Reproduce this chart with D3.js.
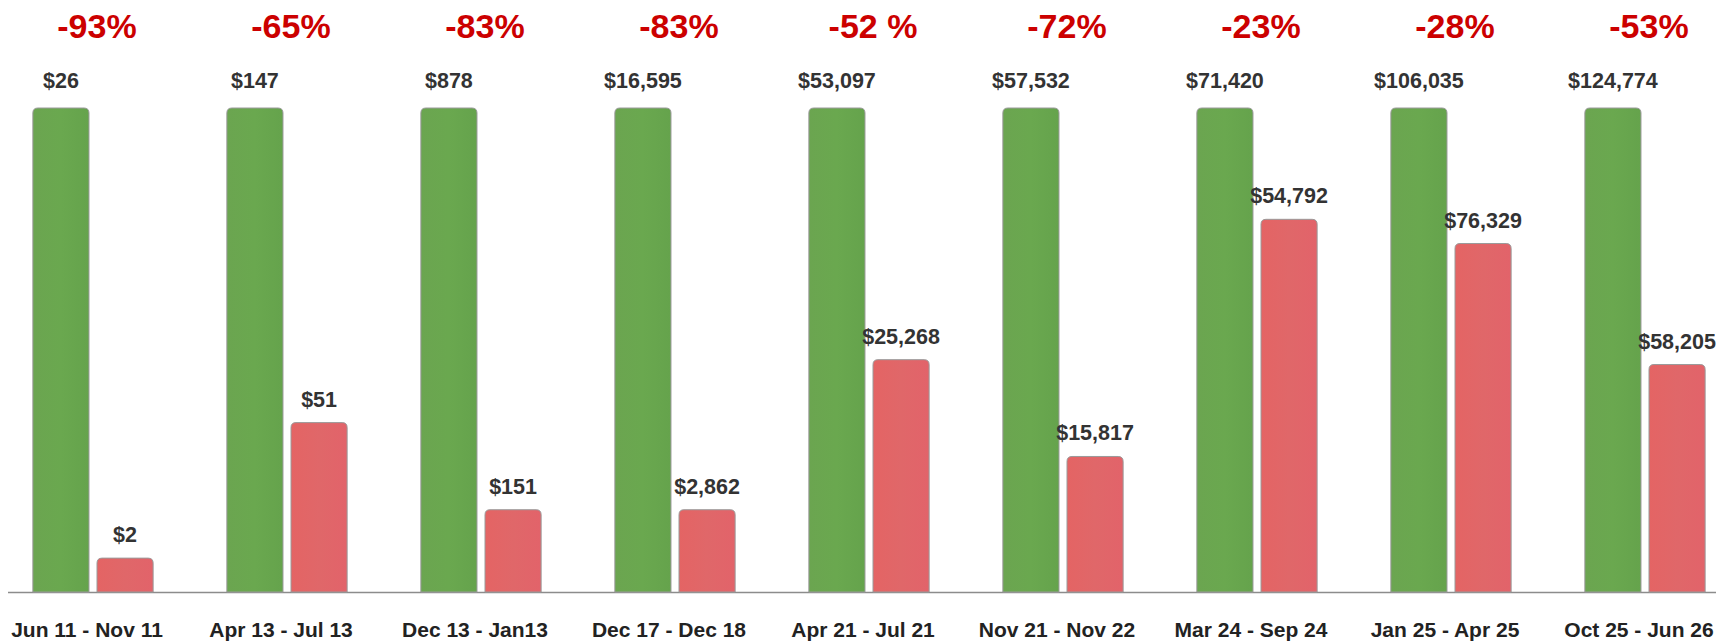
<!DOCTYPE html>
<html>
<head>
<meta charset="utf-8">
<script src="https://cdn.jsdelivr.net/npm/d3@7"></script>
<style>
    body { margin: 0; background: #ffffff; }
    text { font-family: "Liberation Sans", Arial, sans-serif; font-weight: bold; }
</style>
</head>
<body>
<svg id="drawing_region"></svg>
<script>
const periods = ['Jun 11 - Nov 11', 'Apr 13 - Jul 13', 'Dec 13 - Jan13', 'Dec 17 - Dec 18',
    'Apr 21 - Jul 21', 'Nov 21 - Nov 22', 'Mar 24 - Sep 24', 'Jan 25 - Apr 25', 'Oct 25 - Jun 26'];
const peakValues = [26, 147, 878, 16595, 53097, 57532, 71420, 106035, 124774];
const lowValues = [2, 51, 151, 2862, 25268, 15817, 54792, 76329, 58205];
const changeValues = [-93, -65, -83, -83, -52, -72, -23, -28, -53];
const changeLabels = ['-93%', '-65%', '-83%', '-83%', '-52 %', '-72%', '-23%', '-28%', '-53%'];

const config = {
    width: 1716,
    height: 641,
    baseline: 592,
    top: 108
};

const svg = d3.select('#drawing_region')
    .attr('width', config.width)
    .attr('height', config.height);

// bar height is the share of the peak that is left
const data = periods.map((p, i) => ({
    label: p,
    peak: peakValues[i],
    low: lowValues[i],
    change: changeValues[i],
    changeLabel: changeLabels[i]
}));

const xscale = d3.scaleBand()
    .domain(periods)
    .range([-4, 1742])
    .paddingInner(0.38)
    .paddingOuter(0.19);

const xsub = d3.scaleBand()
    .domain(['peak', 'low'])
    .range([0, xscale.bandwidth()])
    .paddingInner(0.125);

const yscale = d3.scaleLinear()
    .domain([0, 1])
    .range([config.baseline, config.top]);

const money = v => '$' + d3.format(',')(v);

function topRounded(x, y, w, h, r) {
    return `M${x},${y + h} V${y + r} Q${x},${y} ${x + r},${y} H${x + w - r} Q${x + w},${y} ${x + w},${y + r} V${y + h} Z`;
}

const defs = svg.append('defs');
const gradG = defs.append('linearGradient').attr('id', 'gradG');
gradG.append('stop').attr('offset', '0%').attr('stop-color', '#6ba550');
gradG.append('stop').attr('offset', '50%').attr('stop-color', '#6aa84f');
gradG.append('stop').attr('offset', '100%').attr('stop-color', '#65a34c');
const gradR = defs.append('linearGradient').attr('id', 'gradR');
gradR.append('stop').attr('offset', '0%').attr('stop-color', '#e46464');
gradR.append('stop').attr('offset', '50%').attr('stop-color', '#e06769');
gradR.append('stop').attr('offset', '100%').attr('stop-color', '#e2636a');

// axis
const xaxis = d3.axisBottom(xscale).tickSize(0);
const xaxis_group = svg.append('g')
    .attr('transform', `translate(-6, ${config.baseline})`)
    .call(xaxis);
xaxis_group.select('.domain').remove();
xaxis_group.selectAll('text')
    .attr('dy', '0')
    .attr('y', 45)
    .style('font-size', '21px')
    .style('font-family', '"Liberation Sans", Arial, sans-serif')
    .style('font-weight', 'bold')
    .attr('fill', '#222222');

svg.append('line')
    .attr('x1', 8).attr('x2', config.width)
    .attr('y1', config.baseline + 0.5).attr('y2', config.baseline + 0.5)
    .attr('stroke', '#8c8c8c')
    .attr('stroke-width', 1.5);

const groups = svg.selectAll('.group')
    .data(data)
    .join('g')
    .attr('class', 'group')
    .attr('transform', d => `translate(${xscale(d.label)}, 0)`);

// green bars (peak, full height)
groups.append('path')
    .attr('d', d => topRounded(xsub('peak'), yscale(1), xsub.bandwidth(), config.baseline - yscale(1), 5))
    .attr('fill', 'url(#gradG)')
    .attr('stroke', '#9a9a9a')
    .attr('stroke-width', 1);

// red bars (what is left after the drop)
groups.append('path')
    .attr('d', d => {
        const y = yscale(1 + d.change / 100);
        return topRounded(xsub('low'), y, xsub.bandwidth(), config.baseline - y, 5);
    })
    .attr('fill', 'url(#gradR)')
    .attr('stroke', '#9a9a9a')
    .attr('stroke-width', 1);

groups.append('text')
    .attr('x', xsub('peak') + xsub.bandwidth() / 2)
    .attr('y', yscale(1) - 20)
    .attr('text-anchor', 'middle')
    .attr('fill', '#333333')
    .style('font-size', '21.5px')
    .text(d => money(d.peak));

groups.append('text')
    .attr('x', xsub('low') + xsub.bandwidth() / 2)
    .attr('y', d => yscale(1 + d.change / 100) - 16)
    .attr('text-anchor', 'middle')
    .attr('fill', '#333333')
    .style('font-size', '21.5px')
    .text(d => money(d.low));

groups.append('text')
    .attr('x', xscale.bandwidth() / 2 + 4)
    .attr('y', 38)
    .attr('text-anchor', 'middle')
    .attr('fill', '#cc0000')
    .style('font-size', '34px')
    .text(d => d.changeLabel);
</script>
</body>
</html>
